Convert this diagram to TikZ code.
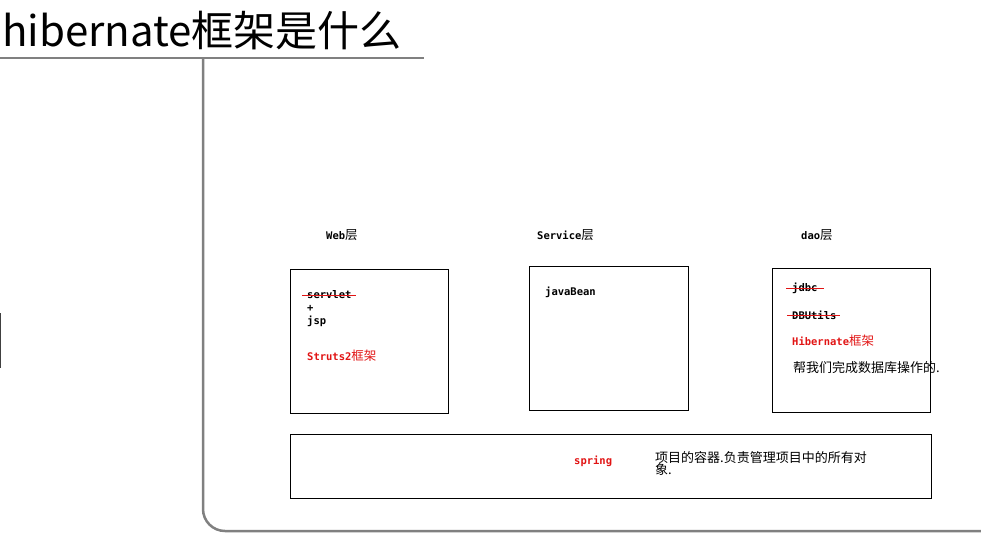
\documentclass[tikz,border=0pt]{standalone}
\usepackage{fontspec}
\setmainfont{Noto Sans CJK SC}
\setmonofont{DejaVu Sans Mono}
\newfontfamily\cjk{Noto Sans CJK SC}
\definecolor{hred}{RGB}{225,20,20}
\definecolor{tgray}{RGB}{128,128,128}
\tikzset{
  layer/.style={anchor=west, inner sep=0pt, font=\ttfamily\bfseries\fontsize{10.5}{12}\selectfont},
  tierbox/.style={draw, line width=0.8pt, anchor=north west, inner sep=0pt},
  item/.style={anchor=west, inner sep=0pt, font=\ttfamily\bfseries\fontsize{10.5}{12}\selectfont},
  note/.style={anchor=west, inner sep=0pt, font=\cjk\fontsize{13}{14}\selectfont},
  strike/.style={hred, line width=1pt}
}
\newcommand{\zh}[1]{{\cjk\mdseries\fontsize{12.5}{12}\selectfont #1}}
\begin{document}
\begin{tikzpicture}[x=1pt, y=-1pt]
  \useasboundingbox (0,0) rectangle (981,533);
  % title and tree lines
  \node[anchor=west, inner sep=0pt, font=\cjk\fontsize{42}{44}\selectfont] (title) at (2,31) {hibernate框架是什么};
  \coordinate (ul) at (0,58);
  \coordinate (ur) at (424,58);
  \coordinate (fork) at (203,58);
  \coordinate (end) at (981,531);
  \draw[tgray, line width=2.5pt] (ul) -- (ur);
  \draw[tgray, line width=2.5pt, rounded corners=22pt] (fork) |- (end);
  \coordinate (st) at (0.5,313);
  \coordinate (sb) at (0.5,368);
  \draw[black!75, line width=1.5pt] (st) -- (sb);
  % layer labels
  \node[layer] (weblbl) at (326,235) {Web\zh{层}};
  \node[layer] (servlbl) at (537,235) {Service\zh{层}};
  \node[layer] (daolbl) at (801,235) {dao\zh{层}};
  % boxes
  \node[tierbox, minimum width=158, minimum height=144] (web) at (290,269) {};
  \node[tierbox, minimum width=159, minimum height=144] (serv) at (529,266) {};
  \node[tierbox, minimum width=158, minimum height=144] (dao) at (772,268) {};
  \node[tierbox, minimum width=641, minimum height=64] (spring) at (290,434) {};
  % web layer
  \node[item] (servlet) at (307,295) {servlet};
  \draw[strike] ([xshift=-5pt]servlet.west) -- ([xshift=4pt]servlet.east);
  \node[item] (plus) at (307,308) {+};
  \node[item] (jsp) at (307,321) {jsp};
  \node[item, text=hred] (struts) at (307,356) {Struts2\zh{框架}};
  % service layer
  \node[item] (bean) at (545,292) {javaBean};
  % dao layer
  \node[item] (jdbc) at (792,288) {jdbc};
  \draw[strike] ([xshift=-6pt]jdbc.west) -- ([xshift=6pt]jdbc.east);
  \node[item] (dbutils) at (792,315) {DBUtils};
  \draw[strike] ([xshift=-5pt]dbutils.west) -- ([xshift=3pt]dbutils.east);
  \node[item, text=hred] (hib) at (792,341) {Hibernate\zh{框架}};
  \node[note] (hibnote) at (793,368) {帮我们完成数据库操作的.};
  % spring
  \node[item, text=hred] (spr) at (574,461) {spring};
  \node[note, align=left, anchor=north west] (sprnote) at (655,451) {项目的容器.负责管理项目中的所有对\\[-2pt]象.};
\end{tikzpicture}
\end{document}
